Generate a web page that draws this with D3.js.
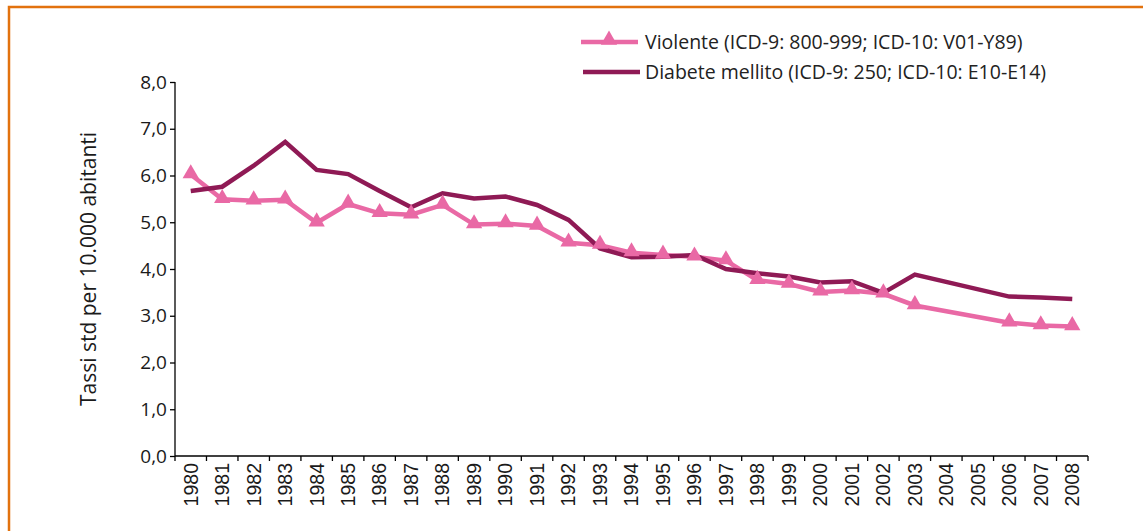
<!DOCTYPE html>
<html lang="it">
<head>
  <meta charset="UTF-8">
  <style>
    body { margin: 0; overflow: hidden; background: #fff; }
    svg { display: block; }
    .ylab { font-family: "Open Sans", sans-serif; font-size: 19px; fill: #1a1a1a; }
    .xlab { font-family: "Liberation Sans", Arial, sans-serif; font-size: 19.5px; fill: #1a1a1a; }
    .legend text { font-family: "Open Sans", sans-serif; font-size: 19.5px; fill: #222; }
    .title { font-family: "Open Sans", sans-serif; font-size: 21px; fill: #1a1a1a; }
  </style>
  <script src="https://d3js.org/d3.v7.min.js"></script>
</head>
<body>
<svg id="chart"></svg>
<script>
  // categories (years); 2004 and 2005 have no data
  const years = [1980, 1981, 1982, 1983, 1984, 1985, 1986, 1987, 1988, 1989,
    1990, 1991, 1992, 1993, 1994, 1995, 1996, 1997, 1998, 1999,
    2000, 2001, 2002, 2003, 2004, 2005, 2006, 2007, 2008];

  const violente = [6.02, 5.49, 5.46, 5.48, 4.99, 5.39, 5.19, 5.16, 5.37, 4.95,
    4.97, 4.92, 4.56, 4.51, 4.35, 4.30, 4.26, 4.18, 3.76, 3.68,
    3.51, 3.54, 3.47, 3.22, null, null, 2.85, 2.79, 2.77];

  const diabete = [5.67, 5.76, 6.21, 6.72, 6.12, 6.03, 5.67, 5.32, 5.62, 5.51,
    5.55, 5.37, 5.05, 4.44, 4.25, 4.26, 4.30, 4.00, 3.91, 3.84,
    3.71, 3.74, 3.49, 3.88, null, null, 3.41, 3.39, 3.36];

  const yTicks = [0, 1, 2, 3, 4, 5, 6, 7, 8];

  const legendLabels = [
    "Violente (ICD-9: 800-999; ICD-10: V01-Y89)",
    "Diabete mellito (ICD-9: 250; ICD-10: E10-E14)"
  ];

  const pink = "#e969a5";
  const plum = "#8f1a55";

  const W = 1143, H = 531;
  const svg = d3.select("#chart").attr("width", W).attr("height", H);

  // orange frame, runs off the right and bottom edges
  svg.append("rect")
    .attr("x", 9).attr("y", 7)
    .attr("width", W + 20).attr("height", H + 20)
    .attr("fill", "none")
    .attr("stroke", "#e2720e")
    .attr("stroke-width", 2.5);

  const x = d3.scaleBand().domain(years).range([175, 1088]);
  const y = d3.scaleLinear().domain([0, 8]).range([456, 82]);

  // y axis
  const yAxis = svg.append("g")
    .attr("transform", "translate(175,0)")
    .call(d3.axisLeft(y).tickValues(yTicks).tickSize(5).tickPadding(3)
      .tickFormat(d => d3.format(".1f")(d).replace(".", ",")));
  yAxis.select(".domain").attr("stroke", "#000").attr("stroke-width", 1.3)
    .attr("d", "M0," + y(8) + "V" + y(0));
  yAxis.selectAll(".tick line").attr("stroke", "#000").attr("stroke-width", 1.3);
  yAxis.selectAll(".tick text").attr("class", "ylab").attr("fill", null);

  // x axis with ticks between categories
  const xAxis = svg.append("g")
    .attr("transform", "translate(0,456)")
    .call(d3.axisBottom(x).tickSize(0).tickFormat(d3.format("d")));
  xAxis.select(".domain").attr("stroke", "#000").attr("stroke-width", 1.3)
    .attr("d", "M175,0H1088");
  xAxis.selectAll(".tick text")
    .attr("class", "xlab")
    .attr("fill", null)
    .attr("transform", "rotate(-90)")
    .attr("x", -7).attr("y", 0).attr("dy", "0.35em")
    .attr("text-anchor", "end");
  xAxis.selectAll(".sep")
    .data(years.map((d, i) => i).concat([years.length]))
    .join("line")
    .attr("class", "sep")
    .attr("x1", i => 175 + i * x.step()).attr("x2", i => 175 + i * x.step())
    .attr("y1", 0).attr("y2", 5)
    .attr("stroke", "#000").attr("stroke-width", 1.3);

  // y axis title
  svg.append("text")
    .attr("class", "title")
    .attr("transform", "translate(96,269) rotate(-90)")
    .attr("text-anchor", "middle")
    .text("Tassi std per 10.000 abitanti");

  const cx = d => x(d) + x.bandwidth() / 2;
  const line = d3.line().x(d => cx(d.year)).y(d => y(d.v));

  const vData = years.map((yr, i) => ({ year: yr, v: violente[i] })).filter(d => d.v != null);
  const dData = years.map((yr, i) => ({ year: yr, v: diabete[i] })).filter(d => d.v != null);

  svg.append("path").datum(vData)
    .attr("d", line).attr("fill", "none")
    .attr("stroke", pink).attr("stroke-width", 4.5).attr("stroke-linejoin", "miter");

  svg.append("path").datum(dData)
    .attr("d", line).attr("fill", "none")
    .attr("stroke", plum).attr("stroke-width", 4.5).attr("stroke-linejoin", "miter");

  const tri = d3.symbol().type(d3.symbolTriangle).size(115);
  svg.selectAll(".marker").data(vData).join("path")
    .attr("class", "marker")
    .attr("d", tri)
    .attr("transform", d => `translate(${cx(d.year)},${y(d.v) - 1})`)
    .attr("fill", pink);

  // legend
  const legend = svg.append("g").attr("class", "legend");
  legend.append("line").attr("x1", 581).attr("x2", 638).attr("y1", 42).attr("y2", 42)
    .attr("stroke", pink).attr("stroke-width", 4.5);
  legend.append("path").attr("d", tri)
    .attr("transform", "translate(609,40)").attr("fill", pink);
  legend.append("text").attr("x", 645).attr("y", 42).attr("dy", "0.35em").text(legendLabels[0]);
  legend.append("line").attr("x1", 583).attr("x2", 640).attr("y1", 72).attr("y2", 72)
    .attr("stroke", plum).attr("stroke-width", 4.5);
  legend.append("text").attr("x", 645).attr("y", 72).attr("dy", "0.35em").text(legendLabels[1]);
</script>
</body>
</html>
